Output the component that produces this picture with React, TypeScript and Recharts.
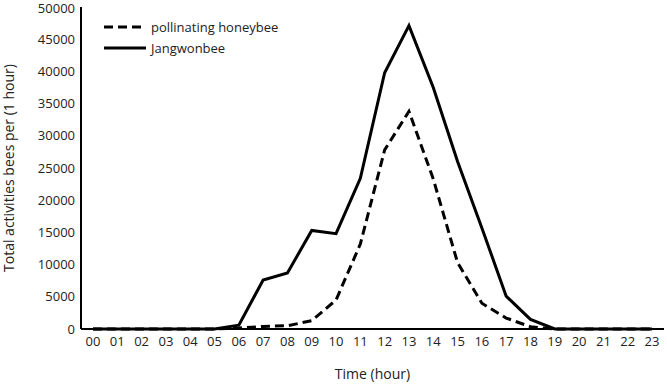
import { LineChart, Line, XAxis, YAxis } from 'recharts';

const hours = ['00', '01', '02', '03', '04', '05', '06', '07', '08', '09', '10', '11', '12', '13', '14', '15', '16', '17', '18', '19', '20', '21', '22', '23'];
const honeybee = [0, 0, 0, 0, 0, 0, 150, 400, 500, 1300, 4500, 13200, 27800, 33800, 23300, 10300, 4000, 1700, 350, 0, 0, 0, 0, 0];
const jangwonbee = [0, 0, 0, 0, 0, 0, 600, 7600, 8700, 15300, 14800, 23400, 39800, 47100, 37500, 26000, 15700, 5100, 1500, 0, 0, 0, 0, 0];
const yTicks = [0, 5000, 10000, 15000, 20000, 25000, 30000, 35000, 40000, 45000, 50000];

const data = hours.map((h, i) => ({ hour: h, honeybee: honeybee[i], jangwonbee: jangwonbee[i] }));

const font = "'Open Sans', sans-serif";

// legend drawn as an overlay so it does not shrink the plot area
const LegendBox = () => (
	<div style={{ position: 'absolute', left: 103, top: 16, fontFamily: font, fontSize: 13, color: '#222' }}>
		<div style={{ display: 'flex', alignItems: 'center', height: 21 }}>
			<svg width={44} height={6}>
				<line x1={1} y1={3} x2={43} y2={3} stroke='#000' strokeWidth={3} strokeDasharray='9 5' />
			</svg>
			<span style={{ marginLeft: 4 }}>pollinating honeybee</span>
		</div>
		<div style={{ display: 'flex', alignItems: 'center', height: 21 }}>
			<svg width={44} height={6}>
				<line x1={1} y1={3} x2={43} y2={3} stroke='#000' strokeWidth={3} />
			</svg>
			<span style={{ marginLeft: 4 }}>Jangwonbee</span>
		</div>
	</div>
);

export default function App() {
	return (
		<div style={{ position: 'absolute', left: 0, top: 0, width: 667, height: 386, background: '#fff' }}>
			<LineChart width={667} height={386} data={data} margin={{ top: 7, right: 3, left: 0, bottom: 27 }}>
				<XAxis
					dataKey='hour'
					height={30}
					padding={{ left: 12, right: 12 }}
					tickLine={false}
					axisLine={{ stroke: '#000', strokeWidth: 2 }}
					tick={{ fill: '#222', fontSize: 13, fontFamily: font }}
					interval={0}
					label={{ value: 'Time (hour)', position: 'insideBottom', offset: -20, fill: '#222', fontSize: 14, fontFamily: font }}
				/>
				<YAxis
					width={81}
					domain={[0, 50000]}
					ticks={yTicks}
					tickLine={false}
					tickSize={4}
					tickMargin={2}
					axisLine={{ stroke: '#000', strokeWidth: 2 }}
					tick={{ fill: '#222', fontSize: 13, fontFamily: font }}
					label={{ value: 'Total activities bees per (1 hour)', angle: -90, position: 'insideLeft', offset: 9, style: { textAnchor: 'middle' }, fill: '#222', fontSize: 14, fontFamily: font }}
				/>
				<Line dataKey='honeybee' stroke='#000' strokeWidth={3} strokeDasharray='9 5' dot={false} isAnimationActive={false} />
				<Line dataKey='jangwonbee' stroke='#000' strokeWidth={3} dot={false} isAnimationActive={false} />
			</LineChart>
			<LegendBox />
		</div>
	);
}
